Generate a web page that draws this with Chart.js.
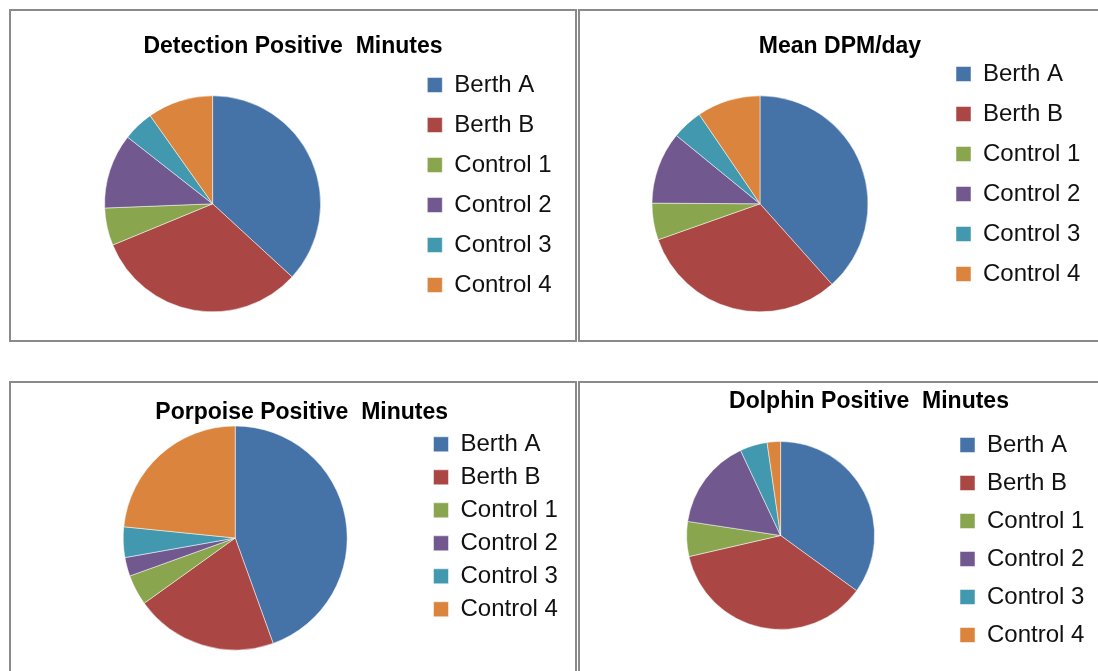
<!DOCTYPE html>
<html>
<head>
<meta charset="utf-8">
<title>DPM pie charts</title>
<script src="https://cdn.jsdelivr.net/npm/chart.js@4.4.1/dist/chart.umd.min.js"></script>
<style>
  html, body { margin: 0; padding: 0; background: #fff; }
  body { position: relative; width: 1098px; height: 671px; overflow: hidden; }
  .panel { position: absolute; box-sizing: border-box; border: 2px solid #8a8a8a; background: #fff; }
  canvas { position: absolute; }
</style>
</head>
<body>
<div class="panel" style="left:9px;top:9px;width:568px;height:333px"></div>
<div class="panel" style="left:578px;top:9px;width:600px;height:333px"></div>
<div class="panel" style="left:9px;top:381px;width:568px;height:400px"></div>
<div class="panel" style="left:578px;top:381px;width:600px;height:400px"></div>

<canvas id="detectionChart" width="578" height="360" style="left:0;top:0"></canvas>
<canvas id="meanChart" width="528" height="370" style="left:570px;top:0"></canvas>
<canvas id="porpoiseChart" width="578" height="291" style="left:0;top:380px"></canvas>
<canvas id="dolphinChart" width="528" height="291" style="left:570px;top:380px"></canvas>

<script>
// Data (percent of total)
const sites = ['Berth A', 'Berth B', 'Control 1', 'Control 2', 'Control 3', 'Control 4'];
const detectionMinutes = [36.8, 31.9, 5.6, 11.2, 4.6, 9.8];
const meanDpmDay = [38.4, 31.2, 5.5, 10.8, 4.6, 9.5];
const porpoiseMinutes = [44.5, 20.6, 4.4, 2.7, 4.4, 23.4];
const dolphinMinutes = [35.0, 36.4, 6.0, 15.6, 4.7, 2.3];

const sliceColors = ['#4572A7', '#AA4643', '#89A54E', '#71588F', '#4198AF', '#DB843D'];
const fontFamily = "'Liberation Sans', Arial, sans-serif";
const legendFontSize = 24;
const legendBox = 15;

// Chart.js centres the title over the whole canvas; move it where the original has it
const titlePlace = {
    id: 'titlePlace',
    afterLayout(chart, args, opts) {
        const t = chart.titleBlock;
        if (!t || opts.x === undefined) return;
        const w = t.right - t.left;
        const h = t.bottom - t.top;
        t.left = opts.x - w / 2;
        t.right = t.left + w;
        t.top = opts.y - h / 2;
        t.bottom = t.top + h;
    }
};

// Width the legend needs: gap + box + half font + longest label
function legendWidth(gap) {
    const ctx = document.createElement('canvas').getContext('2d');
    ctx.font = legendFontSize + 'px ' + fontFamily;
    const textW = Math.max(...sites.map(s => ctx.measureText(s).width));
    return gap + legendBox + legendFontSize / 2 + textW + 4;
}

function makePie(id, title, values, cfg) {
    const canvas = document.getElementById(id);
    const legendW = legendWidth(cfg.gap);
    const legendLeft = cfg.boxLeft - cfg.gap;
    const padding = {
        left: 2 * cfg.centerX - legendLeft,
        right: canvas.width - legendLeft - legendW,
        top: cfg.top,
        bottom: cfg.bottom
    };

    return new Chart(canvas, {
        type: 'pie',
        data: {
            labels: sites,
            datasets: [{
                data: values,
                backgroundColor: sliceColors,
                borderColor: 'rgba(255, 255, 255, 0.5)',
                borderWidth: 1,
                radius: cfg.radius
            }]
        },
        plugins: [titlePlace],
        options: {
            responsive: false,
            animation: false,
            devicePixelRatio: 1,
            layout: { padding: padding },
            plugins: {
                title: {
                    display: true,
                    text: title,
                    color: '#000',
                    padding: 0,
                    font: { family: fontFamily, size: 23, weight: 'bold', lineHeight: 1 }
                },
                titlePlace: cfg.titleAt,
                legend: {
                    display: true,
                    position: 'right',
                    align: cfg.align,
                    fullSize: false,
                    maxWidth: legendW,
                    labels: {
                        boxWidth: legendBox,
                        boxHeight: legendBox,
                        padding: cfg.gap,
                        color: '#111',
                        font: { family: fontFamily, size: legendFontSize }
                    }
                },
                tooltip: { enabled: false }
            }
        }
    });
}

// top = chart area top minus the 23px title box
makePie('detectionChart', 'Detection Positive  Minutes', detectionMinutes, {
    top: 34, bottom: 9.4, centerX: 212.6, boxLeft: 427.3,
    gap: 16, align: 'start', radius: 108, titleAt: { x: 293, y: 46.5 }
});
makePie('meanChart', 'Mean DPM/day', meanDpmDay, {
    top: 23, bottom: 8.4, centerX: 190, boxLeft: 386,
    gap: 16, align: 'start', radius: 108, titleAt: { x: 270, y: 46.5 }
});
makePie('porpoiseChart', 'Porpoise Positive  Minutes', porpoiseMinutes, {
    top: 20.3, bottom: 18.3, centerX: 235.2, boxLeft: 433.5,
    gap: 9, align: 'start', radius: 112, titleAt: { x: 301.7, y: 33 }
});
makePie('dolphinChart', 'Dolphin Positive  Minutes', dolphinMinutes, {
    top: 7, bottom: 10, centerX: 210.6, boxLeft: 390,
    gap: 14, align: 'end', radius: 94, titleAt: { x: 299, y: 22 }
});
</script>
</body>
</html>
